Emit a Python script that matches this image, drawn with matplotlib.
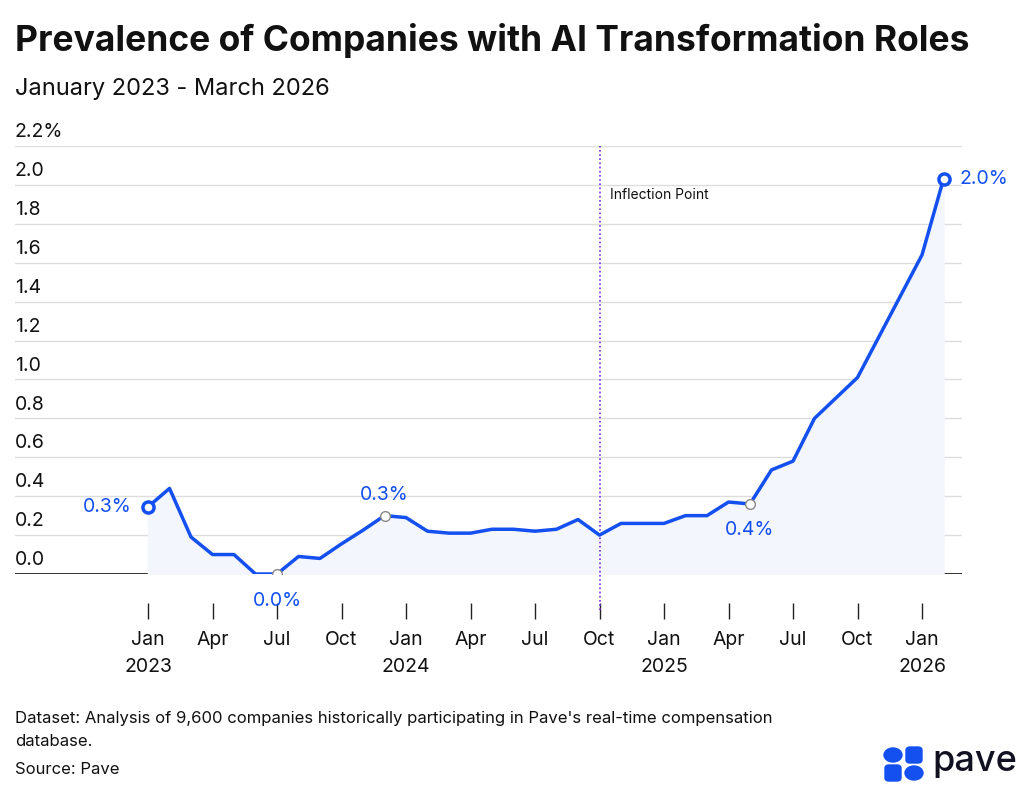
import matplotlib
matplotlib.use("Agg")
import matplotlib.pyplot as plt
from matplotlib.patches import FancyBboxPatch, Circle
import numpy as np

values = [0.345, 0.44, 0.19, 0.10, 0.10, 0.0, 0.0, 0.09, 0.08, 0.155, 0.225, 0.30,
          0.29, 0.22, 0.21, 0.21, 0.23, 0.23, 0.22, 0.23, 0.28, 0.20, 0.26, 0.26,
          0.26, 0.30, 0.30, 0.37, 0.36, 0.535, 0.58, 0.80, 0.905, 1.01, 1.22, 1.43,
          1.64, 2.03]
month_labels = ["Jan\n2023", "Apr", "Jul", "Oct", "Jan\n2024", "Apr", "Jul", "Oct",
                "Jan\n2025", "Apr", "Jul", "Oct", "Jan\n2026"]
yticks = [0.0, 0.2, 0.4, 0.6, 0.8, 1.0, 1.2, 1.4, 1.6, 1.8, 2.0, 2.2]
ytick_labels = ["0.0", "0.2", "0.4", "0.6", "0.8", "1.0", "1.2", "1.4", "1.6", "1.8", "2.0", "2.2%"]
annotations = [(0, "0.3%"), (6, "0.0%"), (11, "0.3%"), (28, "0.4%"), (37, "2.0%")]
inflection_idx = 21

BLUE = "#1450f0"
plt.rcParams['font.family'] = ['Inter', 'DejaVu Sans']

fig = plt.figure(figsize=(10.24, 7.96), dpi=100)
ax = fig.add_axes([15/1024, (796-574)/796, (962-15)/1024, (574-146)/796])
x = np.arange(len(values))
ax.set_xlim((15-148)/21.5, (962-148)/21.5)
ax.set_ylim(0, 2.2)

for yt, lab in zip(yticks, ytick_labels):
    if yt > 0:
        ax.axhline(yt, color="#dddddd", lw=1, zorder=0)
    ax.text(0.0, yt + 0.025, lab, transform=ax.get_yaxis_transform(), fontsize=14,
            color="#111111", va="bottom", ha="left")
ax.axhline(0, color="#111111", lw=1.2, zorder=1)

ax.fill_between(x, values, 0, color="#f3f6fd", zorder=1)
ax.plot(x, values, color=BLUE, lw=2.5, zorder=3)

tick_pos = np.arange(0, len(values), 3)
ax.plot(tick_pos, [-0.19]*len(tick_pos), ls="none", marker="|", ms=12, color="#222222", clip_on=False)
for tp, lab in zip(tick_pos, month_labels):
    ax.text(tp, -0.295, lab, ha="center", va="top", fontsize=14, color="#111111",
            linespacing=1.6, clip_on=False)

ax.axvline(inflection_idx, ymin=-0.085, ymax=1, color="#7a2ee0", ls=(0, (1, 1.5)), lw=1.2,
           clip_on=False, zorder=2)
ax.text(inflection_idx + 0.5, 1.95, "Inflection Point", fontsize=10, color="#111111", va="center")

for idx, lab in annotations:
    v = values[idx]
    if idx in (0, 37):
        ax.plot(idx, v, "o", ms=8, mfc="white", mec=BLUE, mew=2.5, zorder=5, clip_on=False)
    else:
        ax.plot(idx, v, "o", ms=7, mfc="white", mec="#888888", mew=1, zorder=5)
    if idx == 0:
        ax.text(idx - 0.75, v, lab, ha="right", va="center", fontsize=14, color=BLUE)
    elif idx == 37:
        ax.text(idx + 0.75, v, lab, ha="left", va="center", fontsize=14, color=BLUE)
    elif idx == 11:
        ax.text(idx, v + 0.06, lab, ha="center", va="bottom", fontsize=14, color=BLUE)
    else:
        ax.text(idx, v - 0.09, lab, ha="center", va="top", fontsize=14, color=BLUE)

for s in ax.spines.values():
    s.set_visible(False)
ax.set_xticks([]); ax.set_yticks([])

fig.text(15/1024, 1-40/796, "Prevalence of Companies with AI Transformation Roles",
         fontsize=25.5, fontweight="bold", va="center", color="#111111")
fig.text(15/1024, 1-89/796, "January 2023 - March 2026", fontsize=17, va="center", color="#111111")
fig.text(15/1024, 1-719/796, "Dataset: Analysis of 9,600 companies historically participating in Pave's real-time compensation",
         fontsize=12, va="center", color="#111111")
fig.text(15/1024, 1-741/796, "database.", fontsize=12, va="center", color="#111111")
fig.text(15/1024, 1-770/796, "Source: Pave", fontsize=12, va="center", color="#111111")

# logo
for cx, cy, shape in [(893, 755, "c"), (914, 755, "s"), (893, 773, "s"), (914, 773, "c")]:
    if shape == "c":
        fig.patches.append(Circle((cx/1024, 1-cy/796), 9/1024, transform=fig.transFigure,
                                  color=BLUE))
    else:
        fig.patches.append(FancyBboxPatch(((cx-8)/1024, 1-(cy+8)/796), 16/1024, 16/796,
                                          boxstyle="round,pad=0,rounding_size=0.004",
                                          transform=fig.transFigure, color=BLUE))
fig.text(932/1024, 1-762/796, "pave", fontsize=26, va="center", color="#111122", fontweight="medium")

fig.savefig("out.png", dpi=100, facecolor="white")
